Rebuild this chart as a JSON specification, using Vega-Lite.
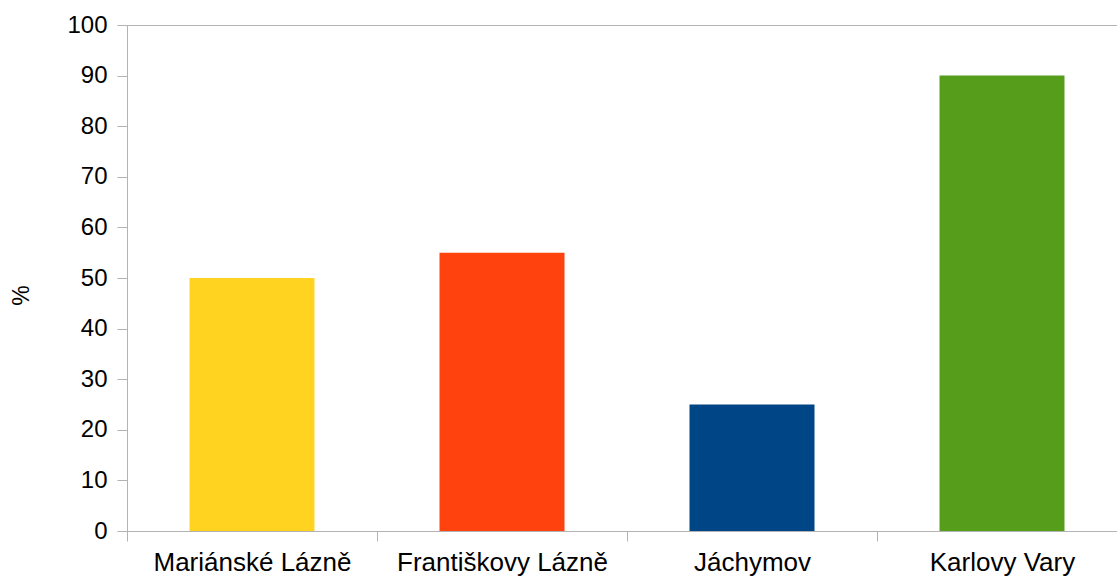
{
  "$schema": "https://vega.github.io/schema/vega-lite/v6.json",
  "autosize": "none",
  "padding": {"left": 127, "top": 25, "right": 0, "bottom": 47},
  "width": 1000,
  "height": 506,
  "background": "white",
  "config": {
    "font": "Liberation Sans",
    "view": {"stroke": "#b3b3b3", "strokeWidth": 1},
    "axis": {"grid": false, "domainColor": "#b3b3b3", "tickColor": "#b3b3b3", "labelColor": "#000000", "titleColor": "#000000", "labelFont": "Liberation Sans", "titleFont": "Liberation Sans"}
  },
  "data": {
    "values": [
      {"city": "Mariánské Lázně", "value": 50},
      {"city": "Františkovy Lázně", "value": 55},
      {"city": "Jáchymov", "value": 25},
      {"city": "Karlovy Vary", "value": 90}
    ]
  },
  "mark": {"type": "bar", "width": {"band": 0.5}},
  "encoding": {
    "x": {
      "field": "city",
      "type": "nominal",
      "sort": null,
      "scale": {"paddingInner": 0, "paddingOuter": 0},
      "axis": {"title": null, "labelAngle": 0, "labelFontSize": 26, "labelLimit": 0, "ticks": true, "tickSize": 10, "tickWidth": 1, "tickBand": "extent", "labelPadding": 8, "labelBaseline": "top"}
    },
    "y": {
      "field": "value",
      "type": "quantitative",
      "scale": {"domain": [0, 100], "nice": false},
      "axis": {"title": "%", "titleFontSize": 23, "titleFontWeight": "normal", "titleAngle": -90, "titleX": -106, "titleY": 270, "titleAlign": "center", "titleBaseline": "middle", "values": [0,10,20,30,40,50,60,70,80,90,100], "labelFontSize": 24, "tickSize": 10, "labelPadding": 10}
    },
    "color": {
      "field": "city",
      "type": "nominal",
      "sort": null,
      "scale": {"range": ["#FFD320", "#FF420E", "#004586", "#579D1C"]},
      "legend": null
    }
  }
}
